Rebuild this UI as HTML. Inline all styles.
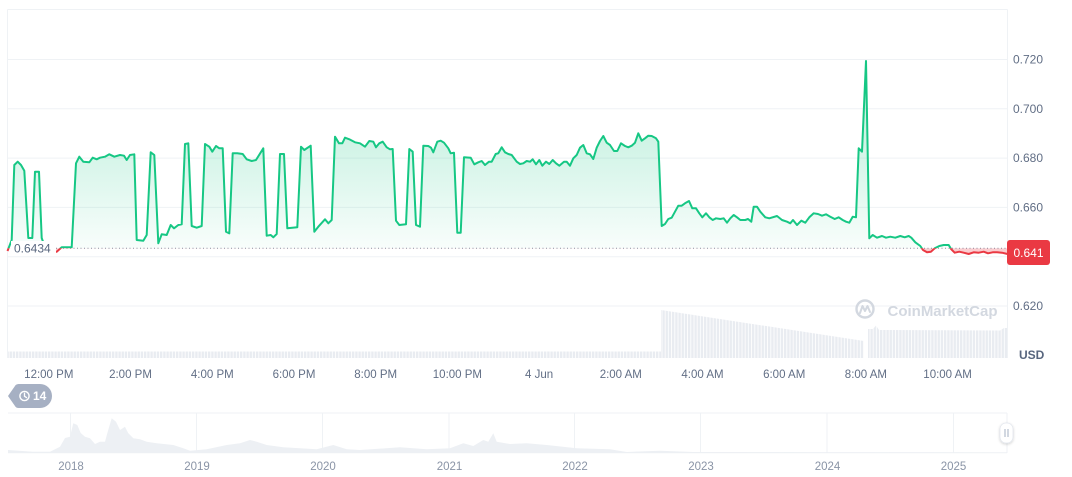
<!DOCTYPE html>
<html>
<head>
<meta charset="utf-8">
<style>
html,body{margin:0;padding:0;background:#fff;}
body{width:1072px;height:477px;overflow:hidden;}
svg{display:block;font-family:"Liberation Sans",Arial,sans-serif;}
</style>
</head>
<body>
<svg width="1072" height="477" viewBox="0 0 1072 477" xmlns="http://www.w3.org/2000/svg" xmlns:xlink="http://www.w3.org/1999/xlink">
<defs>
  <linearGradient id="gfill" gradientUnits="userSpaceOnUse" x1="0" y1="130" x2="0" y2="248.3">
    <stop offset="0" stop-color="#16c784" stop-opacity="0.22"/>
    <stop offset="1" stop-color="#16c784" stop-opacity="0.03"/>
  </linearGradient>
  <clipPath id="above"><rect x="0" y="0" width="1008" height="248.3"/></clipPath>
  <clipPath id="below"><rect x="0" y="248.3" width="1008" height="120"/></clipPath>
  <filter id="sh" x="-50%" y="-50%" width="200%" height="200%">
    <feDropShadow dx="0" dy="1" stdDeviation="1.2" flood-color="#000" flood-opacity="0.18"/>
  </filter>
  <pattern id="bars" patternUnits="userSpaceOnUse" x="0" y="0" width="3.2" height="10">
    <rect x="0" y="0" width="2.4" height="10" fill="#e9ecf1"/>
  </pattern>
  <path id="lp" d="M7.5 251 L11.7 240 L14.3 165 L17.7 161.7 L21 165 L24.3 170.7 L28.3 238 L32.3 238 L35 171.7 L39 171.7 L41.7 238 L46 250 L52 252 L56.7 251.7 L61.7 247.3 L71.7 247.3 L76 163.3 L79.3 156.7 L83.3 161.7 L89.3 162.3 L92.7 157.7 L96.7 159.3 L100 157.7 L105 156.7 L109.3 154.3 L114.3 156.7 L120 155 L124 155.7 L126.7 160 L130 155 L134.3 154.3 L136.7 240 L143.3 240.7 L146.7 235 L150.7 152.3 L154.3 155 L158.3 243.3 L161.7 234.3 L166.7 235 L170.7 225 L174 228.3 L178.3 225 L181.7 224.3 L185 144 L188.3 143.3 L191.7 226 L196.7 227.7 L201.7 226 L205 144 L209.3 146.7 L212.3 151.7 L216 146 L219.3 148.3 L222.7 148.3 L226 231.7 L229.3 233.3 L232.7 153.3 L237.3 153.3 L242.7 154 L246.7 159.3 L251.7 161 L256 160 L263.3 148.3 L266.7 235.7 L270.7 235 L273.3 237.3 L276.7 234 L280 154 L284 154 L287.3 228.3 L297.3 227.3 L301 146.7 L304.3 150 L310.7 145.7 L314.3 231.7 L318.3 226.7 L325 219.3 L328.3 223.3 L331.7 220 L335 136.7 L339 143.3 L342.3 143.3 L345 137.7 L349.3 139.3 L355 142.3 L360 143.3 L365 146.7 L369.3 141 L373.3 141.7 L376 147.3 L379.3 143.3 L382.7 141.7 L386.7 147.3 L390 149.3 L392.7 149 L396 220.7 L399.3 225 L406 224.3 L409.3 149 L412.7 151.7 L416 225 L420 226.7 L423.3 145.7 L428.3 146 L431 147.7 L433.3 152.3 L437.3 141.7 L440.7 140.7 L444 142.7 L448.3 148.3 L450.7 153.3 L454 152.7 L457.3 232.7 L460.7 232.7 L464 157.3 L470.7 157.7 L474.3 164.3 L478.3 162.3 L481.7 161 L485 165 L489 161.7 L491.7 161.7 L495.7 154 L498.3 153.3 L501.7 147.3 L505 152.3 L508.3 154 L511.7 155 L516.7 161.7 L520 164 L523.3 163.3 L526.7 161 L530 161.7 L532.7 159.3 L536 164.3 L539.3 160 L542.3 165.7 L546 161.7 L549.3 164 L552.7 160 L556 163.3 L559.3 165.7 L564 161.7 L566.7 161.7 L570 165.7 L573.3 158.3 L576.7 155 L580 147.7 L583.3 145 L586.7 153.3 L590 154.3 L593.3 159 L596.7 147.7 L600 141 L603.3 136 L606.7 142.7 L610 145 L614 151 L617.3 151 L621 143.3 L625 146 L628.3 147.3 L631.7 145.7 L635 142.7 L638.3 133.3 L641.7 140.7 L645 138.3 L648.3 135.7 L651.7 136 L656 138.3 L658.3 141.7 L661.7 226 L665 224 L668.3 219 L671.7 217.7 L675 211.7 L678.3 205.7 L681.7 205.7 L685 203.3 L689 201 L692.3 208.3 L696 208.3 L699.3 213.3 L702.3 217.3 L706 213.3 L709.3 217.3 L712.7 220 L716 218.3 L720.3 219 L723.7 218.3 L727 222.7 L730.3 218.3 L733.7 215 L737 217.3 L740.3 220 L745.3 220 L748 219 L751.3 221.7 L753.7 206.7 L757 206.7 L760.3 211.7 L765.3 217.3 L769.3 218.3 L777 216 L782 220 L787 221.7 L790.3 223.3 L793 220 L797 225 L801.3 220.7 L805.3 222.7 L809.3 217.3 L813.7 213.3 L818 214 L822 215.7 L826 214.3 L830.3 216.7 L834.7 219 L838.7 217.3 L842.7 220 L846 221.7 L849.3 222.7 L852.7 216.7 L856 217.3 L858.7 148.3 L862 151.7 L866 61 L869.3 238.3 L872.7 235 L877 237.7 L882 236 L886 237.7 L890.3 236.7 L895.3 237.7 L900.3 236 L904.7 237.3 L908.7 236 L911.3 237.7 L915.3 242.3 L920.3 246 L923 250 L927 252.3 L931 251.7 L934.7 248.3 L939.3 246 L943.7 245 L948.7 245 L951.3 249.3 L954.7 252.7 L959.3 251.7 L963.7 252.7 L968.7 254 L973.7 252.3 L978.7 252.7 L983.7 251.7 L988 253.3 L992.7 252.3 L997 252.3 L1002 252.7 L1007.5 254"/>
  <path id="ap" d="M7.5 251 L11.7 240 L14.3 165 L17.7 161.7 L21 165 L24.3 170.7 L28.3 238 L32.3 238 L35 171.7 L39 171.7 L41.7 238 L46 250 L52 252 L56.7 251.7 L61.7 247.3 L71.7 247.3 L76 163.3 L79.3 156.7 L83.3 161.7 L89.3 162.3 L92.7 157.7 L96.7 159.3 L100 157.7 L105 156.7 L109.3 154.3 L114.3 156.7 L120 155 L124 155.7 L126.7 160 L130 155 L134.3 154.3 L136.7 240 L143.3 240.7 L146.7 235 L150.7 152.3 L154.3 155 L158.3 243.3 L161.7 234.3 L166.7 235 L170.7 225 L174 228.3 L178.3 225 L181.7 224.3 L185 144 L188.3 143.3 L191.7 226 L196.7 227.7 L201.7 226 L205 144 L209.3 146.7 L212.3 151.7 L216 146 L219.3 148.3 L222.7 148.3 L226 231.7 L229.3 233.3 L232.7 153.3 L237.3 153.3 L242.7 154 L246.7 159.3 L251.7 161 L256 160 L263.3 148.3 L266.7 235.7 L270.7 235 L273.3 237.3 L276.7 234 L280 154 L284 154 L287.3 228.3 L297.3 227.3 L301 146.7 L304.3 150 L310.7 145.7 L314.3 231.7 L318.3 226.7 L325 219.3 L328.3 223.3 L331.7 220 L335 136.7 L339 143.3 L342.3 143.3 L345 137.7 L349.3 139.3 L355 142.3 L360 143.3 L365 146.7 L369.3 141 L373.3 141.7 L376 147.3 L379.3 143.3 L382.7 141.7 L386.7 147.3 L390 149.3 L392.7 149 L396 220.7 L399.3 225 L406 224.3 L409.3 149 L412.7 151.7 L416 225 L420 226.7 L423.3 145.7 L428.3 146 L431 147.7 L433.3 152.3 L437.3 141.7 L440.7 140.7 L444 142.7 L448.3 148.3 L450.7 153.3 L454 152.7 L457.3 232.7 L460.7 232.7 L464 157.3 L470.7 157.7 L474.3 164.3 L478.3 162.3 L481.7 161 L485 165 L489 161.7 L491.7 161.7 L495.7 154 L498.3 153.3 L501.7 147.3 L505 152.3 L508.3 154 L511.7 155 L516.7 161.7 L520 164 L523.3 163.3 L526.7 161 L530 161.7 L532.7 159.3 L536 164.3 L539.3 160 L542.3 165.7 L546 161.7 L549.3 164 L552.7 160 L556 163.3 L559.3 165.7 L564 161.7 L566.7 161.7 L570 165.7 L573.3 158.3 L576.7 155 L580 147.7 L583.3 145 L586.7 153.3 L590 154.3 L593.3 159 L596.7 147.7 L600 141 L603.3 136 L606.7 142.7 L610 145 L614 151 L617.3 151 L621 143.3 L625 146 L628.3 147.3 L631.7 145.7 L635 142.7 L638.3 133.3 L641.7 140.7 L645 138.3 L648.3 135.7 L651.7 136 L656 138.3 L658.3 141.7 L661.7 226 L665 224 L668.3 219 L671.7 217.7 L675 211.7 L678.3 205.7 L681.7 205.7 L685 203.3 L689 201 L692.3 208.3 L696 208.3 L699.3 213.3 L702.3 217.3 L706 213.3 L709.3 217.3 L712.7 220 L716 218.3 L720.3 219 L723.7 218.3 L727 222.7 L730.3 218.3 L733.7 215 L737 217.3 L740.3 220 L745.3 220 L748 219 L751.3 221.7 L753.7 206.7 L757 206.7 L760.3 211.7 L765.3 217.3 L769.3 218.3 L777 216 L782 220 L787 221.7 L790.3 223.3 L793 220 L797 225 L801.3 220.7 L805.3 222.7 L809.3 217.3 L813.7 213.3 L818 214 L822 215.7 L826 214.3 L830.3 216.7 L834.7 219 L838.7 217.3 L842.7 220 L846 221.7 L849.3 222.7 L852.7 216.7 L856 217.3 L858.7 148.3 L862 151.7 L866 61 L869.3 238.3 L872.7 235 L877 237.7 L882 236 L886 237.7 L890.3 236.7 L895.3 237.7 L900.3 236 L904.7 237.3 L908.7 236 L911.3 237.7 L915.3 242.3 L920.3 246 L923 250 L927 252.3 L931 251.7 L934.7 248.3 L939.3 246 L943.7 245 L948.7 245 L951.3 249.3 L954.7 252.7 L959.3 251.7 L963.7 252.7 L968.7 254 L973.7 252.3 L978.7 252.7 L983.7 251.7 L988 253.3 L992.7 252.3 L997 252.3 L1002 252.7 L1007.5 254 L1007.5 248.3 L7.5 248.3 Z"/>
</defs>

<!-- grid -->
<g stroke="#eff2f5" stroke-width="1" fill="none">
  <line x1="7.5" y1="9.5" x2="1007.5" y2="9.5"/>
  <line x1="7.5" y1="59.5" x2="1007.5" y2="59.5"/>
  <line x1="7.5" y1="108.8" x2="1007.5" y2="108.8"/>
  <line x1="7.5" y1="158.1" x2="1007.5" y2="158.1"/>
  <line x1="7.5" y1="207.4" x2="1007.5" y2="207.4"/>
  <line x1="7.5" y1="256.7" x2="1007.5" y2="256.7"/>
  <line x1="7.5" y1="306" x2="1007.5" y2="306"/>
  <line x1="7.5" y1="9.5" x2="7.5" y2="358"/>
  <line x1="1007.5" y1="9.5" x2="1007.5" y2="358"/>
</g>

<!-- volume -->
<g fill="url(#bars)">
  <rect x="8" y="351.5" width="653" height="6.5"/>
  <polygon points="661,358 661,310 864,341 864,358"/>
  <polygon points="868,358 868,329 873,329 876,325.5 879,330 1000,330.5 1004,328 1007,328 1007,358"/>
</g>

<!-- watermark -->
<g>
  <circle cx="865" cy="309" r="8.5" fill="none" stroke="#d3d8e0" stroke-width="2.4"/>
  <path d="M860 313 L862.5 306 L865 311 L867.5 306 L870 312" fill="none" stroke="#d3d8e0" stroke-width="2" stroke-linejoin="round" stroke-linecap="round"/>
  <text x="887.5" y="316" font-size="15" font-weight="bold" fill="#d3d8e0" textLength="110" lengthAdjust="spacingAndGlyphs">CoinMarketCap</text>
</g>

<!-- baseline dotted -->
<line x1="56" y1="248.3" x2="1007" y2="248.3" stroke="#8a94a6" stroke-width="1" stroke-dasharray="1 2.5"/>

<!-- fills -->
<g clip-path="url(#above)"><use href="#ap" xlink:href="#ap" fill="url(#gfill)"/></g>
<g clip-path="url(#below)"><use href="#ap" xlink:href="#ap" fill="#ea3943" fill-opacity="0.25"/></g>

<!-- lines -->
<g clip-path="url(#above)"><use href="#lp" xlink:href="#lp" fill="none" stroke="#16c784" stroke-width="2" stroke-linejoin="round"/></g>
<g clip-path="url(#below)"><use href="#lp" xlink:href="#lp" fill="none" stroke="#ea3943" stroke-width="2" stroke-linejoin="round"/></g>

<!-- start price label -->
<rect x="11" y="241" width="45" height="15" fill="#ffffff"/>
<text x="14" y="252.3" font-size="12" fill="#58667e">0.6434</text>

<!-- y axis labels -->
<g font-size="12" fill="#616e85">
  <text x="1013" y="63.5">0.720</text>
  <text x="1013" y="112.8">0.700</text>
  <text x="1013" y="162.1">0.680</text>
  <text x="1013" y="211.4">0.660</text>
  <text x="1013" y="310">0.620</text>
</g>
<text x="1019" y="359" font-size="12" font-weight="bold" fill="#58667e">USD</text>

<!-- current price label -->
<rect x="1007" y="240" width="43" height="25" rx="3" fill="#ea3943"/>
<text x="1028.5" y="256.8" font-size="12" fill="#ffffff" text-anchor="middle">0.641</text>

<!-- time axis labels -->
<g font-size="11.5" fill="#616e85" text-anchor="middle">
  <text x="48.8" y="378">12:00 PM</text>
  <text x="130.5" y="378">2:00 PM</text>
  <text x="212.3" y="378">4:00 PM</text>
  <text x="294" y="378">6:00 PM</text>
  <text x="375.7" y="378">8:00 PM</text>
  <text x="457.4" y="378">10:00 PM</text>
  <text x="539.1" y="378">4 Jun</text>
  <text x="620.8" y="378">2:00 AM</text>
  <text x="702.5" y="378">4:00 AM</text>
  <text x="784.2" y="378">6:00 AM</text>
  <text x="865.9" y="378">8:00 AM</text>
  <text x="947.6" y="378">10:00 AM</text>
</g>

<!-- history bubble -->
<path d="M8 396 L15.5 385.3 Q16.5 384 18.5 384 L40 384 A12 12 0 0 1 40 408 L18.5 408 Q16.5 408 15.5 406.7 Z" fill="#a6b0c3"/>
<circle cx="24.5" cy="396" r="4.6" fill="none" stroke="#ffffff" stroke-width="1.4"/>
<path d="M24.5 393.3 V396.3 L26.5 397.6" fill="none" stroke="#ffffff" stroke-width="1.3" stroke-linecap="round"/>
<text x="33" y="400.2" font-size="12" font-weight="bold" fill="#ffffff">14</text>

<!-- navigator -->
<g stroke="#eff2f5" stroke-width="1" fill="none">
  <line x1="8" y1="413" x2="1007" y2="413"/>
  <line x1="8" y1="452.8" x2="1007" y2="452.8"/>
  <line x1="1007" y1="413" x2="1007" y2="453"/>
  <line x1="70.5" y1="413" x2="70.5" y2="453"/>
  <line x1="196.5" y1="413" x2="196.5" y2="453"/>
  <line x1="322.5" y1="413" x2="322.5" y2="453"/>
  <line x1="449" y1="413" x2="449" y2="453"/>
  <line x1="574.5" y1="413" x2="574.5" y2="453"/>
  <line x1="700.5" y1="413" x2="700.5" y2="453"/>
  <line x1="827" y1="413" x2="827" y2="453"/>
  <line x1="953.5" y1="413" x2="953.5" y2="453"/>
</g>
<polygon fill="#edf0f4" points="8,453 8,450 33,451.7 50,451.7 60,446.7 65,438 70,436.7 73.3,423.3 77.3,425 80.7,433 85,436.7 90,438.3 95,444 100,441.7 105,441.7 107.3,433.3 111.7,418.3 116,421.7 120,430 125,426.7 128.3,433.3 133.3,438.3 140,439.3 146.7,441.7 156.7,443.3 173.3,445 183.3,448.3 190,450.7 206.7,449.3 226.7,445 240,443.3 250,440 256.7,441.7 266.7,445 283.3,447.3 316.7,449.3 333.3,445 346.7,449.3 360,450 400,447.3 426.7,449.3 450,448.3 463.3,443.3 473.3,446 483.3,440 488.3,441.7 493.3,433.3 496.7,441.7 510,444 526.7,443.3 546.7,445 576.7,448.3 610,449.3 626.7,452 660,450.7 693.3,452 1007,452.5 1007,453"/>

<!-- navigator handle -->
<rect x="1000" y="423" width="13" height="20" rx="6" fill="#ffffff" stroke="#e3e7ee" stroke-width="0.8" filter="url(#sh)"/>
<line x1="1005" y1="429" x2="1005" y2="437" stroke="#a6b0c3" stroke-width="1"/>
<line x1="1008" y1="429" x2="1008" y2="437" stroke="#a6b0c3" stroke-width="1"/>

<!-- year labels -->
<g font-size="11.5" fill="#8a94a6" text-anchor="middle">
  <text x="71" y="470">2018</text>
  <text x="197" y="470">2019</text>
  <text x="323" y="470">2020</text>
  <text x="449.5" y="470">2021</text>
  <text x="575" y="470">2022</text>
  <text x="701" y="470">2023</text>
  <text x="827.5" y="470">2024</text>
  <text x="953.5" y="470">2025</text>
</g>
</svg>
</body>
</html>
